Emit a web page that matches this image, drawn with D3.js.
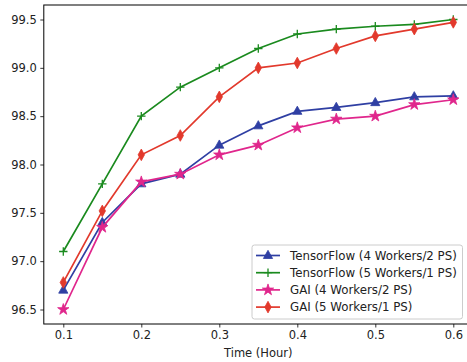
<!DOCTYPE html>
<html><head><meta charset="utf-8">
<script src="https://cdn.jsdelivr.net/npm/d3@7"></script>
<style>body{margin:0;background:#fff}svg{display:block}text{font-family:"DejaVu Sans",sans-serif;fill:#222}</style>
</head><body>
<svg id="c" width="467" height="362"></svg>
<script>
const xs = [0.1,0.15,0.2,0.25,0.3,0.35,0.4,0.45,0.5,0.55,0.6];
const tf4 = [96.7,97.4,97.8,97.9,98.2,98.4,98.55,98.59,98.64,98.7,98.71];
const tf5 = [97.1,97.8,98.5,98.8,99.0,99.2,99.35,99.4,99.43,99.45,99.5];
const gai4 = [96.5,97.35,97.82,97.9,98.1,98.2,98.38,98.47,98.5,98.62,98.67];
const gai5 = [96.78,97.52,98.1,98.3,98.7,99.0,99.05,99.2,99.33,99.4,99.47];
const xTicks = [0.1,0.2,0.3,0.4,0.5,0.6];
const yTicks = [96.5,97.0,97.5,98.0,98.5,99.0,99.5];
const seriesNames = ["TensorFlow (4 Workers/2 PS)","TensorFlow (5 Workers/1 PS)","GAI (4 Workers/2 PS)","GAI (5 Workers/1 PS)"];
const series = [
 {name:seriesNames[0], vals:tf4, color:"#2f3fa3", marker:"tri"},
 {name:seriesNames[1], vals:tf5, color:"#1a8a1e", marker:"plus"},
 {name:seriesNames[2], vals:gai4, color:"#e0268c", marker:"star"},
 {name:seriesNames[3], vals:gai5, color:"#e2392c", marker:"diam"}
];
const L=43.8, R=472.8, T=5, B=324;
const x = d3.scaleLinear().domain([0.075,0.625]).range([L,R]);
const y = d3.scaleLinear().domain([96.35,99.65]).range([B,T]);
const svg = d3.select("#c");
const fs = 11.5, lfs = 11.8;
const gx = svg.append("g").attr("transform",`translate(0,${B})`)
  .call(d3.axisBottom(x).tickValues(xTicks).tickFormat(d3.format(".1f")).tickSizeOuter(0).tickSize(3.5).tickPadding(3.5));
const gy = svg.append("g").attr("transform",`translate(${L},0)`)
  .call(d3.axisLeft(y).tickValues(yTicks).tickFormat(d3.format(".1f")).tickSizeOuter(0).tickSize(3.5).tickPadding(3.5));
[gx,gy].forEach(g=>{g.select(".domain").remove();g.selectAll("line").attr("stroke","#000").attr("stroke-width",0.8);
  g.selectAll("text").attr("font-size",fs).attr("font-family","DejaVu Sans").attr("fill","#222");});
svg.append("rect").attr("x",L).attr("y",T).attr("width",R-L).attr("height",B-T).attr("fill","none").attr("stroke","#000").attr("stroke-width",1);
svg.append("text").attr("x",(L+R)/2).attr("y",357).attr("text-anchor","middle").attr("font-size",fs).text("Time (Hour)");

function markerPath(type){
  if(type==="tri") return "M0,-5.2L4.6,3L-4.6,3Z";
  if(type==="plus") return "M-4.2,0H4.2M0,-4.2V4.2";
  if(type==="star") return d3.symbol(d3.symbolStar,40)();
  if(type==="diam") return "M0,-5.8L3.2,0L0,5.8L-3.2,0Z";
}
function drawMarker(g,type,color,cx,cy){
  const p = g.append("path").attr("d",markerPath(type)).attr("transform",`translate(${cx},${cy})`);
  if(type==="plus") p.attr("fill","none").attr("stroke",color).attr("stroke-width",1.3);
  else p.attr("fill",color).attr("stroke",color).attr("stroke-width",0.8);
}
const line = d3.line().x((d,i)=>x(xs[i])).y(d=>y(d));
const plot = svg.append("g");
series.forEach(s=>{
  plot.append("path").attr("d",line(s.vals)).attr("fill","none").attr("stroke",s.color).attr("stroke-width",1.7);
  s.vals.forEach((v,i)=>drawMarker(plot,s.marker,s.color,x(xs[i]),y(v)));
});
const lg = svg.append("g");
lg.append("rect").attr("x",252).attr("y",245).attr("width",210.5).attr("height",74).attr("rx",2.5)
  .attr("fill","#fff").attr("fill-opacity",0.8).attr("stroke","#ccc").attr("stroke-width",1);
series.forEach((s,i)=>{
  const cy = 255.5 + i*17.2;
  lg.append("line").attr("x1",256).attr("x2",280).attr("y1",cy).attr("y2",cy).attr("stroke",s.color).attr("stroke-width",1.7);
  drawMarker(lg,s.marker,s.color,268,cy);
  lg.append("text").attr("x",290).attr("y",cy+4.2).attr("font-size",lfs).text(s.name);
});
</script>
</body></html>
